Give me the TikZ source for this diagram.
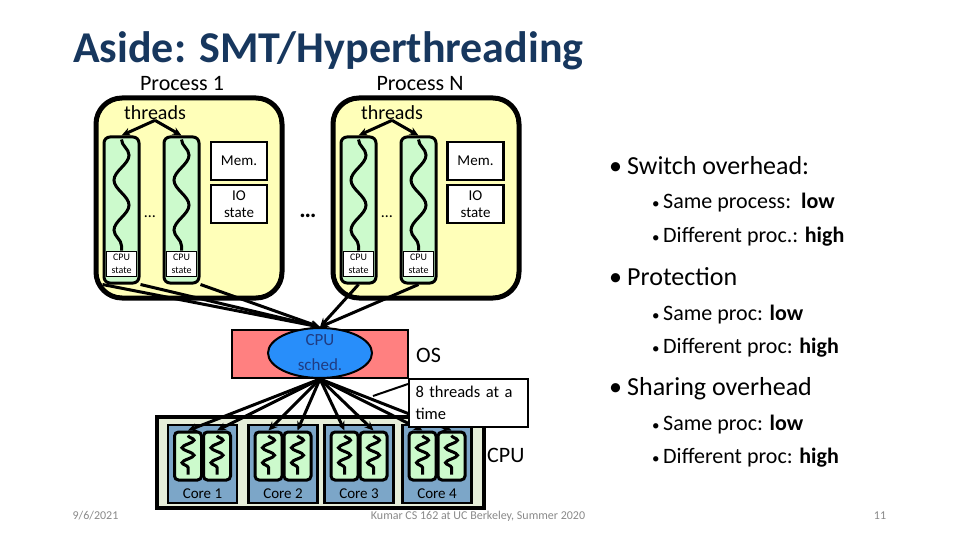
\documentclass[tikz,border=0pt]{standalone}
\usepackage{fontspec}
\setmainfont{Carlito}
\usetikzlibrary{arrows.meta,positioning,shapes.geometric,decorations.pathmorphing}

\definecolor{titleblue}{RGB}{23,55,94}
\definecolor{procyellow}{RGB}{255,255,185}
\definecolor{thrgreen}{RGB}{204,250,204}
\definecolor{ossalmon}{RGB}{255,128,128}
\definecolor{schedblue}{RGB}{40,142,250}
\definecolor{schedtext}{RGB}{31,60,130}
\definecolor{coreblue}{RGB}{124,166,200}
\definecolor{cpubg}{RGB}{230,238,217}
\definecolor{footgray}{RGB}{137,137,137}

\newcommand{\fsz}[2]{\fontsize{#1}{#2}\selectfont}

\begin{document}
\begin{tikzpicture}[
                x=1pt, y=-1pt,
                >={Stealth[length=9pt, width=8pt]},
                every node/.style={align=center, inner sep=0pt},
                procbox/.style={rectangle, rounded corners=26pt, draw=black,
                        line width=5pt, fill=procyellow, minimum width=186pt, minimum height=200pt},
                thrcol/.style={rectangle, rounded corners=6pt, draw=black,
                        line width=3pt, fill=thrgreen, minimum width=35pt, minimum height=146pt},
                cpustate/.style={rectangle, draw=black, line width=1pt, fill=white,
                        minimum width=30pt, minimum height=25pt, font=\fsz{10}{13}},
                membox/.style={rectangle, draw=black, line width=2.5pt, fill=white,
                        minimum width=56pt, minimum height=38pt, font=\fsz{15}{17}},
                wave/.style={line width=3pt, decorate,
                        decoration={snake, amplitude=7.5pt, segment length=50pt}},
                corebox/.style={rectangle, draw=black, line width=2.5pt, fill=coreblue,
                        minimum width=69pt, minimum height=78pt},
                corethr/.style={rectangle, rounded corners=4pt, draw=black,
                        line width=3pt, fill=thrgreen, minimum width=27pt, minimum height=48pt},
                zig/.style={line width=3pt, decorate,
                        decoration={snake, amplitude=6pt, segment length=15pt}},
                conn/.style={->, line width=3pt},
                lbl/.style={font=\fsz{22}{26}},
                bul/.style={anchor=base west, font=\fsz{26}{30}},
                subbul/.style={anchor=base west, font=\fsz{22}{26}},
                foot/.style={anchor=base, font=\fsz{12}{14}, text=footgray},
            ]
            \useasboundingbox (0,0) rectangle (960,540);

            % title
            \node[anchor=base west, font=\fsz{44}{50}\bfseries, text=titleblue] (ttl) at (73,63)
                {Aside: SMT/Hyperthreading};

            % processes
            \node[procbox] (proc1) at (189,198) {};
            \node[procbox] (procN) at (426,198) {};
            \node[lbl, anchor=base] (proc1lbl) at (182,91) {Process 1};
            \node[lbl, anchor=base] (procNlbl) at (420,91) {Process N};
            \node[anchor=base, font=\fsz{20}{24}] (thr1) at (155,120) {threads};
            \node[anchor=base, font=\fsz{20}{24}] (thrN) at (392,120) {threads};

            \node[thrcol] (p1t1) at (121.5,210) {};
            \node[thrcol] (p1t2) at (181.5,210) {};
            \node[thrcol] (pNt1) at (358.5,210) {};
            \node[thrcol] (pNt2) at (418.5,210) {};
            \node[cpustate, above=8pt of p1t1.south] (p1cs1) {CPU\\state};
            \node[cpustate, above=8pt of p1t2.south] (p1cs2) {CPU\\state};
            \node[cpustate, above=8pt of pNt1.south] (pNcs1) {CPU\\state};
            \node[cpustate, above=8pt of pNt2.south] (pNcs2) {CPU\\state};
            \draw[wave] ([yshift=-4pt]p1t1.north) -- (p1cs1.north);
            \draw[wave] ([yshift=-4pt]p1t2.north) -- (p1cs2.north);
            \draw[wave] ([yshift=-4pt]pNt1.north) -- (pNcs1.north);
            \draw[wave] ([yshift=-4pt]pNt2.north) -- (pNcs2.north);

            \node[membox] (mem1) at (239,161) {Mem.};
            \node[membox] (io1) at (239,204) {IO\\state};
            \node[membox] (memN) at (475.5,161) {Mem.};
            \node[membox] (ioN) at (475.5,204) {IO\\state};

            \node[anchor=base, font=\fsz{16}{18}] (dots1) at (150,217) {\dots};
            \node[anchor=base, font=\fsz{16}{18}] (dotsN) at (387,217) {\dots};
            \node[anchor=base, font=\fsz{24}{26}\bfseries] (dotsP) at (308,217) {\dots};

            \draw[conn] (thr1.south) -- (p1t1.north);
            \draw[conn] (thr1.south) -- (p1t2.north);
            \draw[conn] (thrN.south) -- (pNt1.north);
            \draw[conn] (thrN.south) -- (pNt2.north);

            % OS and scheduler
            \node[rectangle, draw=black, line width=2.5pt, fill=ossalmon,
                minimum width=176pt, minimum height=48pt] (os) at (320,354) {};
            \node[ellipse, draw=black, line width=2pt, fill=schedblue, inner sep=-6pt,
                minimum width=104pt, minimum height=50pt, text=schedtext,
                font=\fsz{17}{25}] (sched) at (320,353) {CPU\\sched.};
            \node[lbl, anchor=base west] (oslbl) at (416,362) {OS};

            \draw[conn] (p1t1.south west) -- (sched.north);
            \draw[conn] (p1t1.south east) -- (sched.north);
            \draw[conn] (p1t2.south east) -- (sched.north);
            \draw[conn] (pNt1.south) -- (sched.north);
            \draw[conn] (pNt2.south) -- (sched.north);

            % CPU with cores
            \node[rectangle, draw=black, line width=4pt, fill=cpubg,
                minimum width=327pt, minimum height=91pt] (cpu) at (320.5,462.5) {};
            \node[lbl, anchor=base west] (cpulbl) at (487,462) {CPU};

            \node[corebox] (core1) at (202.5,464) {};
            \node[corebox] (core2) at (283,464) {};
            \node[corebox] (core3) at (359,464) {};
            \node[corebox] (core4) at (437,464) {};
            \node[corethr] (core1a) at (188,456) {};
            \node[corethr] (core1b) at (217,456) {};
            \node[corethr] (core2a) at (268.5,456) {};
            \node[corethr] (core2b) at (297.5,456) {};
            \node[corethr] (core3a) at (344.5,456) {};
            \node[corethr] (core3b) at (373.5,456) {};
            \node[corethr] (core4a) at (422.5,456) {};
            \node[corethr] (core4b) at (451.5,456) {};
            \draw[zig] ([yshift=-5pt]core1a.north) -- ([yshift=7pt]core1a.south);
            \draw[zig] ([yshift=-5pt]core1b.north) -- ([yshift=7pt]core1b.south);
            \draw[zig] ([yshift=-5pt]core2a.north) -- ([yshift=7pt]core2a.south);
            \draw[zig] ([yshift=-5pt]core2b.north) -- ([yshift=7pt]core2b.south);
            \draw[zig] ([yshift=-5pt]core3a.north) -- ([yshift=7pt]core3a.south);
            \draw[zig] ([yshift=-5pt]core3b.north) -- ([yshift=7pt]core3b.south);
            \draw[zig] ([yshift=-5pt]core4a.north) -- ([yshift=7pt]core4a.south);
            \draw[zig] ([yshift=-5pt]core4b.north) -- ([yshift=7pt]core4b.south);
            \node[anchor=base, font=\fsz{15}{17}] (core1lbl) at (202.5,498) {Core 1};
            \node[anchor=base, font=\fsz{15}{17}] (core2lbl) at (283,498) {Core 2};
            \node[anchor=base, font=\fsz{15}{17}] (core3lbl) at (359,498) {Core 3};
            \node[anchor=base, font=\fsz{15}{17}] (core4lbl) at (437,498) {Core 4};

            \draw[conn] (sched.south) -- (core1a.north);
            \draw[conn] (sched.south) -- (core1b.north);
            \draw[conn] (sched.south) -- (core2a.north);
            \draw[conn] (sched.south) -- (core2b.north);
            \draw[conn] (sched.south) -- (core3a.north);
            \draw[conn] (sched.south) -- (core3b.north);
            \draw[conn] (sched.south) -- (core4a.north);
            \draw[conn] (sched.south) -- (core4b.north);

            % callout
            \node[rectangle, draw=black, line width=2pt, fill=white, minimum width=119pt,
                minimum height=48pt, text width=106pt, align=left, font=\fsz{16.5}{22}]
                (note) at (468.5,403) {8 threads at a\\time};
            \coordinate (notetip) at (373,396);
            \draw[line width=2pt] ([yshift=-6pt]note.north west) -- (notetip);

            % bullets
            \node[bul] (sw) at (609,175) {\makebox[18pt][l]{\textbullet}Switch overhead:};
            \node[subbul] (sw1) at (652,208) {\makebox[11pt][l]{\fsz{15}{15}\textbullet}Same process:\ \ \textbf{low}};
            \node[subbul] (sw2) at (652,242) {\makebox[11pt][l]{\fsz{15}{15}\textbullet}Different proc.: \textbf{high}};
            \node[bul] (pr) at (609,285) {\makebox[18pt][l]{\textbullet}Protection};
            \node[subbul] (pr1) at (652,320) {\makebox[11pt][l]{\fsz{15}{15}\textbullet}Same proc: \textbf{low}};
            \node[subbul] (pr2) at (652,353) {\makebox[11pt][l]{\fsz{15}{15}\textbullet}Different proc: \textbf{high}};
            \node[bul] (sh) at (609,395) {\makebox[18pt][l]{\textbullet}Sharing overhead};
            \node[subbul] (sh1) at (652,430) {\makebox[11pt][l]{\fsz{15}{15}\textbullet}Same proc: \textbf{low}};
            \node[subbul] (sh2) at (652,463) {\makebox[11pt][l]{\fsz{15}{15}\textbullet}Different proc: \textbf{high}};

            % footer
            \node[foot] (date) at (95.5,519) {9/6/2021};
            \node[foot] (course) at (478,519) {Kumar CS 162 at UC Berkeley, Summer 2020};
            \node[foot] (page) at (880,519) {11};

        \end{tikzpicture}
\end{document}
